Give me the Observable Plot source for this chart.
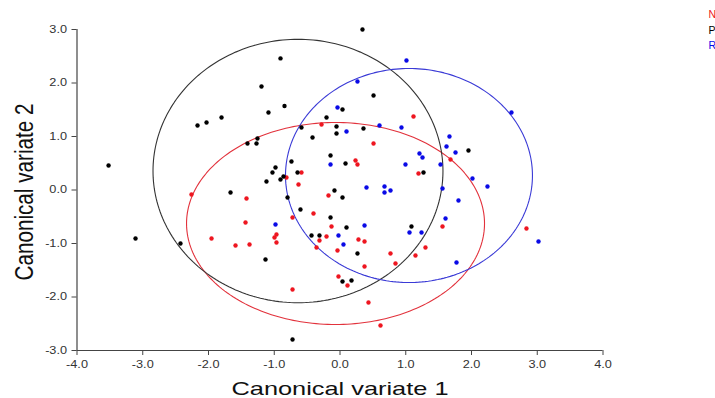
<!DOCTYPE html>
<html><head><meta charset="utf-8">
<script src="https://cdn.jsdelivr.net/npm/d3@7"></script>
<script src="https://cdn.jsdelivr.net/npm/@observablehq/plot@0.6"></script>
<style>
body{margin:0;background:#fff;}
svg{font-family:"Liberation Sans",Arial,sans-serif;}
</style>
</head><body><div id="chart"></div>
<script>
// Groups and colours
const groups = ["N", "P", "R"];
const dotColors = ["#ee1620", "#000000", "#0a0ae6"];
const ellipseColors = ["#e2323c", "#333333", "#3a3ad6"];

// Group N (red)
const nX = [1.118,-0.281,0.51,0.236,0.266,-0.586,1.194,-0.814,-0.631,-0.175,1.681,-2.259,-1.422,-1.437,-1.954,-1.589,-1.376,-0.403,-0.722,-0.129,-0.966,-0.996,-0.966,-0.312,-0.205,-0.357,-0.038,0.281,0.373,1.559,1.3,1.148,0.768,0.844,0.373,-0.023,0.114,-0.722,0.433,0.616,2.836];
const nY = [1.374,1.224,0.869,0.551,0.477,0.327,0.308,0.234,0.103,-0.103,0.57,-0.084,-0.159,-0.607,-0.907,-1.037,-1.019,-0.439,-0.514,-0.682,-0.832,-0.888,-0.981,-0.944,-0.869,-1.075,-1.131,-0.925,-0.963,-0.682,-1.075,-1.224,-1.187,-1.374,-1.43,-1.617,-1.785,-1.86,-2.103,-2.533,-0.72];

// Group P (black)
const pX = [0.342,-0.905,-1.194,0.51,-0.844,-1.088,0.038,-0.205,-2.167,-2.03,-1.802,-0.053,0.357,-0.586,-0.053,-0.418,-1.255,-1.27,-1.407,-3.52,-0.144,-0.738,0.084,-0.981,-1.027,-0.646,1.27,-0.859,-0.905,-1.118,1.954,-1.665,-0.084,0.038,-0.798,-3.11,-2.426,-0.601,-0.144,0.099,-0.433,-0.312,0.266,1.087,-1.133,0.038,0.175,-0.722];
const pY = [3.0,2.46,1.935,1.766,1.57,1.449,1.505,1.355,1.206,1.262,1.355,1.187,1.15,1.168,1.056,0.981,0.963,0.869,0.869,0.458,0.645,0.533,0.495,0.421,0.327,0.327,0.327,0.252,0.196,0.159,0.738,-0.047,-0.009,-0.14,-0.14,-0.907,-1.0,-0.364,-0.514,-0.701,-0.85,-0.85,-1.187,-0.682,-1.299,-1.71,-1.692,-2.794];

// Group R (blue)
const rX = [1.011,0.266,-0.038,0.601,0.935,0.099,1.665,1.62,1.757,1.209,1.255,-0.144,0.996,1.529,2.608,2.015,2.243,0.403,0.677,0.768,0.677,1.559,1.802,-0.981,0.373,-0.023,0.053,1.057,1.24,1.605,3.019,1.772];
const rY = [2.421,2.028,1.542,1.206,1.168,1.093,1.0,0.813,0.701,0.682,0.607,0.477,0.477,0.477,1.449,0.215,0.065,0.047,0.065,-0.009,-0.047,0.028,-0.196,-0.645,-0.664,-0.85,-1.019,-0.794,-0.794,-0.533,-0.963,-1.355];

// Group ellipses (centre and radii, data units), order N, P, R
const ellipseCX = [-0.068, -0.639, 1.049];
const ellipseCY = [-0.626, 0.355, 0.271];
const ellipseRX = [2.266, 2.205, 1.878];
const ellipseRY = [1.888, 2.462, 2.0];

// Ticks and labels
const xTicks = [-4, -3, -2, -1, 0, 1, 2, 3, 4];
const yTicks = [-3, -2, -1, 0, 1, 2, 3];
const xLabel = "Canonical variate 1";
const yLabel = "Canonical variate 2";

const seriesX = [nX, pX, rX];
const seriesY = [nY, pY, rY];
const points = [];
groups.forEach((g, i) => seriesX[i].forEach((x, j) => points.push({group: g, x, y: seriesY[i][j]})));

function ellipseOutline(i) {
  const out = [];
  for (let k = 0; k <= 240; k++) {
    const t = 2 * Math.PI * k / 240;
    out.push({x: ellipseCX[i] + ellipseRX[i] * Math.cos(t), y: ellipseCY[i] + ellipseRY[i] * Math.sin(t)});
  }
  return out;
}

const legendDy = [-14.5, 1, 15.7];

const chart = Plot.plot({
  width: 715, height: 398,
  marginLeft: 76.5, marginRight: 112.5, marginTop: 29, marginBottom: 48,
  x: {domain: [-4, 4]},
  y: {domain: [-3, 3]},
  color: {domain: groups, range: dotColors},
  style: {fontFamily: "'Liberation Sans', Arial, sans-serif", background: "#fff", color: "#333"},
  marks: [
    ...groups.map((g, i) => Plot.line(ellipseOutline(i), {x: "x", y: "y", stroke: ellipseColors[i], strokeWidth: 1.1})),
    Plot.dot(points, {x: "x", y: "y", fill: "group", r: 2.2}),
    Plot.ruleX([-4], {stroke: "#444", strokeWidth: 1.2}),
    Plot.ruleY([-3], {stroke: "#444", strokeWidth: 1.2}),
    Plot.axisX({ticks: xTicks, tickFormat: d => d.toFixed(1), tickSize: 5, tickPadding: 5, fontSize: 10, label: null, stroke: "#444", fill: "#333"}),
    Plot.axisY({ticks: yTicks, tickFormat: d => d.toFixed(1), tickSize: 5, tickPadding: 5, fontSize: 10, label: null, stroke: "#444", fill: "#333"}),
    Plot.text([xLabel], {frameAnchor: "bottom", textAnchor: "middle", lineAnchor: "middle", dy: 38, fontSize: 19, fill: "#111", className: "xlab"}),
    Plot.text([yLabel], {frameAnchor: "left", textAnchor: "middle", lineAnchor: "middle", dx: -52.5, dy: 2, rotate: -90, fontSize: 25, fill: "#111", className: "ylab"}),
    ...groups.map((g, i) => Plot.text([g], {frameAnchor: "top-right", textAnchor: "start", lineAnchor: "middle", dx: 105.5, dy: legendDy[i], fontSize: 10.5, fill: dotColors[i]}))
  ]
});
document.getElementById("chart").append(chart);

function stretch(el, len) {
  el.setAttribute("textLength", len);
  el.setAttribute("lengthAdjust", "spacingAndGlyphs");
}
d3.select(chart).selectAll('g[aria-label$="tick label"] text').each(function() {
  stretch(this, this.getComputedTextLength() * 1.27);
});
d3.select(chart).selectAll('.xlab text').each(function() { stretch(this, 217); });
// compress the rotated label along its baseline (keeps it centred)
d3.select(chart).selectAll('.ylab text').each(function() {
  const w = this.getComputedTextLength();
  const k = 177 / w;
  this.setAttribute("transform", (this.getAttribute("transform") || "") + ` scale(${k},1)`);
});
</script>
</body></html>
